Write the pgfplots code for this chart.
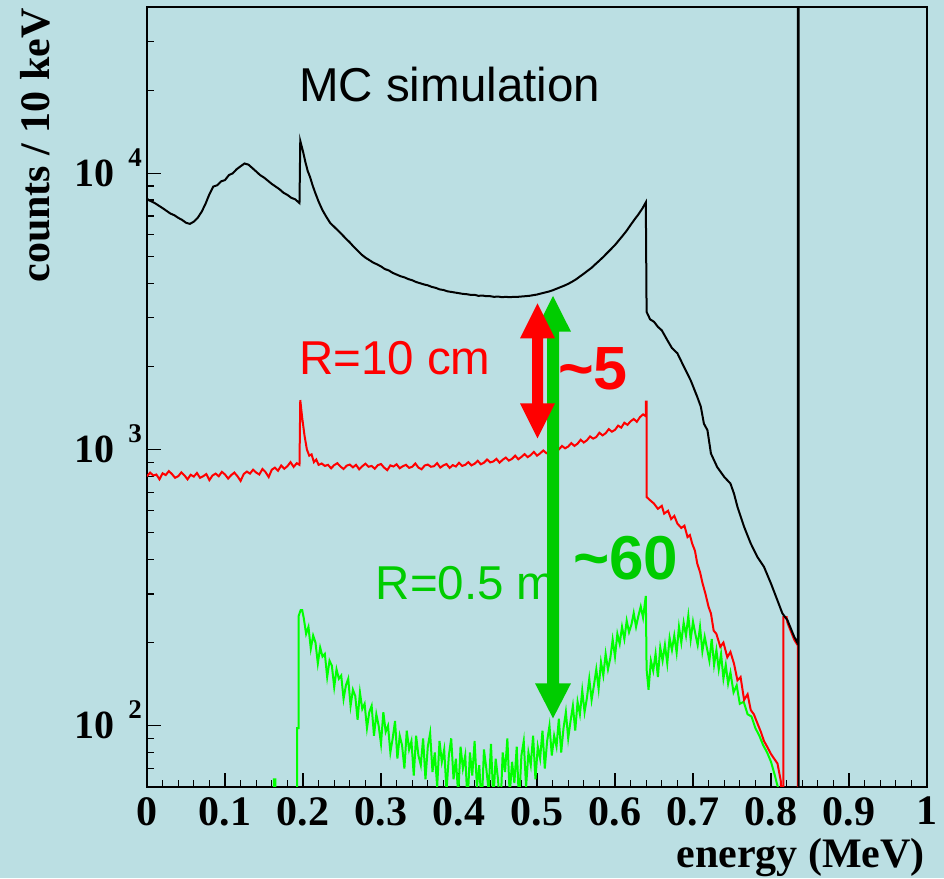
\documentclass[border=0pt]{standalone}
\usepackage{fontspec}
\setmainfont{Liberation Serif}
\newfontfamily\arial{Liberation Sans}
\usepackage{pgfplots}
\usepackage{pgfplotstable}
\pgfplotsset{compat=1.18}

\definecolor{bgc}{RGB}{187,223,227}
\definecolor{lgreen}{RGB}{0,255,0}
\definecolor{dgreen}{RGB}{0,204,0}
\definecolor{pred}{RGB}{255,0,0}

\newcommand\tickfont{\fontsize{42}{42}\selectfont\bfseries}
\newcommand\ylab[1]{\fontsize{40}{40}\selectfont\bfseries 10\hspace{14pt}\smash{\raisebox{20pt}{\fontsize{27}{27}\selectfont\bfseries #1}}}

% black: total spectrum
\pgfplotstableread{
x y
0.000 8100
0.002 8000
0.010 7800
0.020 7480
0.030 7150
0.035 7050
0.040 6900
0.045 6780
0.050 6620
0.055 6560
0.060 6680
0.065 6900
0.070 7250
0.075 7750
0.080 8400
0.085 8950
0.090 9050
0.095 9350
0.100 9450
0.105 9850
0.110 10000
0.115 10350
0.120 10600
0.125 10850
0.130 10750
0.135 10450
0.140 10150
0.145 9850
0.150 9650
0.155 9400
0.160 9150
0.165 8950
0.170 8750
0.175 8500
0.180 8350
0.185 8150
0.190 8050
0.1955 7800
0.1965 13100
0.200 12000
0.203 11000
0.206 10200
0.209 9700
0.212 9100
0.215 8600
0.220 7900
0.225 7350
0.230 6950
0.235 6600
0.240 6400
0.245 6200
0.250 6000
0.255 5800
0.260 5620
0.265 5420
0.270 5250
0.275 5080
0.280 4950
0.285 4850
0.290 4750
0.295 4680
0.300 4600
0.305 4500
0.310 4450
0.315 4360
0.320 4300
0.325 4240
0.330 4200
0.335 4140
0.340 4100
0.345 4040
0.350 4000
0.355 3960
0.360 3930
0.365 3880
0.370 3850
0.375 3800
0.380 3780
0.385 3740
0.390 3720
0.395 3700
0.400 3680
0.405 3660
0.410 3650
0.415 3630
0.420 3630
0.425 3600
0.430 3610
0.435 3590
0.440 3590
0.445 3570
0.450 3580
0.455 3560
0.460 3570
0.465 3560
0.470 3570
0.475 3570
0.480 3580
0.485 3590
0.490 3600
0.495 3620
0.500 3640
0.505 3670
0.510 3700
0.515 3730
0.520 3770
0.525 3820
0.530 3870
0.535 3920
0.540 3980
0.545 4050
0.550 4130
0.555 4230
0.560 4330
0.565 4440
0.570 4550
0.575 4690
0.580 4830
0.585 4980
0.590 5150
0.595 5320
0.600 5500
0.605 5720
0.610 5950
0.615 6200
0.620 6500
0.625 6800
0.630 7100
0.635 7450
0.6395 7850
0.6405 3150
0.645 2960
0.650 2900
0.655 2780
0.660 2700
0.667 2490
0.673 2330
0.680 2230
0.6885 1990
0.697 1780
0.7055 1550
0.710 1430
0.714 1240
0.7185 1175
0.723 967
0.731 864
0.740 796
0.748 753
0.7525 693
0.757 620
0.7655 525
0.774 457
0.7826 408
0.791 376
0.800 327
0.8083 284
0.8146 255
0.8211 241
0.8297 210
0.8345 198
0.8345 1000000
0.8355 1000000
0.8355 1
}\blackdata

% red: R = 10 cm
\pgfplotstableread{
x y
0.000 800
0.004 825
0.008 805
0.012 812
0.016 780
0.020 820
0.024 808
0.028 835
0.032 815
0.036 790
0.040 800
0.044 826
0.048 806
0.052 780
0.056 810
0.060 798
0.064 822
0.068 790
0.072 800
0.076 815
0.080 775
0.084 805
0.088 818
0.092 800
0.096 830
0.100 812
0.104 785
0.108 808
0.112 825
0.116 800
0.120 770
0.124 815
0.128 832
0.132 818
0.136 845
0.140 825
0.144 812
0.148 850
0.152 828
0.156 795
0.160 845
0.164 860
0.168 838
0.172 875
0.176 852
0.180 870
0.184 900
0.188 865
0.192 892
0.1955 880
0.1965 1510
0.199 1300
0.202 1120
0.205 1000
0.208 950
0.211 960
0.214 900
0.217 920
0.220 880
0.224 890
0.228 872
0.232 880
0.236 855
0.240 878
0.244 892
0.248 868
0.252 850
0.256 874
0.260 882
0.264 862
0.268 880
0.272 848
0.276 870
0.280 888
0.284 866
0.288 872
0.292 852
0.296 878
0.300 886
0.304 860
0.308 842
0.312 876
0.316 868
0.320 884
0.324 855
0.328 870
0.332 880
0.336 858
0.340 866
0.344 890
0.348 860
0.352 848
0.356 875
0.360 882
0.364 866
0.368 870
0.372 892
0.376 860
0.380 876
0.384 886
0.388 858
0.392 878
0.396 868
0.400 895
0.404 872
0.408 880
0.412 900
0.416 876
0.420 888
0.424 910
0.428 884
0.432 896
0.436 920
0.440 898
0.444 905
0.448 925
0.452 896
0.456 918
0.460 935
0.464 912
0.468 925
0.472 950
0.476 922
0.480 940
0.484 962
0.488 938
0.492 955
0.496 980
0.500 950
0.504 968
0.508 992
0.512 970
0.516 985
0.520 1010
0.524 985
0.528 1000
0.532 1030
0.536 1010
0.540 1025
0.544 1055
0.548 1030
0.552 1050
0.556 1085
0.560 1060
0.564 1080
0.568 1115
0.572 1095
0.576 1110
0.580 1150
0.584 1125
0.588 1145
0.592 1185
0.596 1160
0.600 1178
0.604 1220
0.608 1200
0.612 1250
0.616 1228
0.620 1265
0.624 1290
0.628 1260
0.632 1310
0.636 1340
0.6395 1320
0.6395 1490
0.6405 1490
0.6405 673
0.645 655
0.650 637
0.655 610
0.660 625
0.663 586
0.668 600
0.672 560
0.676 575
0.680 539
0.685 520
0.689 530
0.693 482
0.696 490
0.699 456
0.7025 430
0.7055 386
0.709 360
0.712 330
0.716 300
0.720 269
0.723 255
0.7265 221
0.730 215
0.735 193
0.739 200
0.744 177
0.748 185
0.7525 168
0.757 146
0.761 150
0.7655 124
0.770 130
0.774 114
0.778 110
0.7826 102
0.787 95
0.791 88
0.795 84
0.800 79
0.804 76
0.8083 73
0.8126 63
0.8140 50
0.8160 50
0.8160 247
0.8200 247
0.8211 236
0.8297 205
0.8345 195
0.8345 1
}\reddata

% green: R = 0.5 m
\pgfplotstableread{
x y
0.160 30
0.1625 30
0.1625 64
0.1645 64
0.1645 30
0.1925 30
0.1925 98
0.1945 98
0.1945 250
0.197 262
0.199 262
0.201 245
0.204 215
0.207 228
0.210 190
0.213 212
0.216 200
0.219 168
0.222 192
0.225 178
0.228 182
0.231 150
0.234 172
0.237 165
0.240 138
0.243 160
0.246 148
0.249 152
0.252 125
0.255 140
0.258 148
0.261 118
0.264 135
0.267 128
0.270 105
0.273 132
0.276 115
0.279 120
0.282 98
0.285 112
0.288 118
0.291 92
0.294 110
0.297 100
0.300 86
0.303 112
0.306 95
0.309 100
0.312 80
0.315 90
0.318 104
0.321 76
0.324 92
0.327 85
0.330 70
0.333 96
0.336 82
0.339 88
0.342 66
0.345 92
0.348 78
0.351 72
0.354 90
0.357 64
0.360 84
0.363 94
0.366 68
0.369 80
0.372 60
0.375 88
0.378 74
0.381 82
0.384 58
0.387 78
0.390 90
0.393 64
0.396 76
0.399 56
0.402 84
0.405 70
0.408 78
0.411 52
0.414 80
0.417 66
0.420 88
0.423 60
0.426 72
0.429 50
0.432 82
0.435 70
0.438 58
0.441 86
0.444 54
0.447 76
0.450 64
0.453 48
0.456 80
0.459 68
0.462 90
0.465 56
0.468 74
0.471 62
0.474 84
0.477 52
0.480 78
0.483 88
0.486 60
0.489 80
0.492 72
0.495 92
0.498 64
0.501 84
0.504 76
0.507 96
0.510 70
0.513 88
0.516 100
0.519 78
0.522 92
0.525 84
0.528 106
0.531 80
0.534 98
0.537 112
0.540 90
0.543 104
0.546 118
0.549 96
0.552 122
0.555 110
0.558 134
0.561 112
0.564 126
0.567 148
0.570 124
0.573 140
0.576 160
0.579 136
0.582 170
0.585 152
0.588 182
0.591 160
0.594 176
0.597 205
0.600 178
0.603 215
0.606 198
0.609 228
0.612 206
0.615 240
0.618 218
0.621 232
0.624 256
0.627 228
0.630 250
0.633 270
0.636 246
0.6395 295
0.6405 160
0.643 135
0.646 172
0.649 158
0.652 182
0.655 150
0.658 192
0.661 172
0.664 196
0.667 168
0.670 208
0.673 188
0.676 212
0.679 184
0.682 228
0.685 200
0.688 236
0.691 212
0.694 250
0.697 205
0.700 238
0.703 215
0.706 196
0.709 228
0.712 186
0.715 210
0.718 190
0.721 172
0.724 206
0.727 166
0.730 188
0.733 160
0.736 182
0.739 148
0.742 166
0.745 142
0.748 156
0.752 132
0.756 140
0.760 120
0.765 122
0.770 110
0.775 108
0.780 98
0.785 92
0.790 85
0.795 80
0.800 74
0.805 66
0.810 58
0.812 30
}\greendata

\begin{document}
\begin{tikzpicture}
% page background, also fixes the picture size
\fill[bgc] (-147pt,-91pt) rectangle (797pt,787pt);
\useasboundingbox (-147pt,-91pt) rectangle (797pt,787pt);

\begin{axis}[
    at={(0,0)}, anchor=south west,
    width=780pt, height=780pt, scale only axis,
    xmin=0, xmax=1,
    ymode=log, ymin=60, ymax=40000,
    xtick={0,0.1,0.2,0.3,0.4,0.5,0.6,0.7,0.8,0.9,1},
    xticklabels={0,0.1,0.2,0.3,0.4,0.5,0.6,0.7,0.8,0.9,1},
    minor x tick num=4,
    ytick={100,1000,10000},
    yticklabels={{\ylab{2}},{\ylab{3}},{\ylab{4}}},
    minor ytick={60,70,80,90,200,300,400,500,600,700,800,900,2000,3000,4000,5000,6000,7000,8000,9000,20000,30000,40000},
    xtick pos=left, ytick pos=left,
    tick align=inside,
    major tick length=14pt, minor tick length=7pt,
    tick style={black, line width=1.2pt},
    axis line style={black, line width=1.5pt},
    xticklabel style={font=\tickfont, inner sep=0pt, anchor=north, yshift=-10pt},
    yticklabel style={inner sep=0pt, anchor=east, xshift=-5pt},
]
\addplot[lgreen, line width=2pt] table[x=x, y=y] {\greendata};
\addplot[pred, line width=2pt] table[x=x, y=y] {\reddata};
\addplot[black, line width=2pt] table[x=x, y=y] {\blackdata};
\end{axis}

% axis titles
\node[font=\tickfont, anchor=base east, inner sep=0pt] at (778pt,-80pt) {energy (MeV)};
\node[font=\tickfont, rotate=90, anchor=base east, inner sep=0pt] at (-97pt,779pt) {counts / 10 keV};

% annotations
\node[font=\arial\fontsize{47.5}{47.5}\selectfont, anchor=base west, inner sep=0pt] at (152pt,685.3pt) {MC simulation};
\node[font=\arial\fontsize{47.5}{47.5}\selectfont, text=pred, anchor=base west, inner sep=0pt] at (152pt,412pt) {R=10 cm};
\node[font=\arial\fontsize{47.5}{47.5}\selectfont, text=dgreen, anchor=base west, inner sep=0pt] at (228.5pt,187pt) {R=0.5 m};

% green double arrow
\fill[dgreen] (400pt,103.7pt) -- (400pt,455.3pt) -- (388pt,455.3pt) -- (406pt,491pt) -- (424pt,455.3pt)
  -- (412pt,455.3pt) -- (412pt,103.7pt) -- (424pt,103.7pt) -- (406pt,68.7pt) -- (388pt,103.7pt) -- cycle;
% red double arrow
\fill[pred] (385pt,383.7pt) -- (385pt,448.7pt) -- (373pt,448.7pt) -- (390.5pt,483.7pt) -- (408pt,448.7pt)
  -- (396pt,448.7pt) -- (396pt,383.7pt) -- (408pt,383.7pt) -- (390.5pt,348.7pt) -- (373pt,383.7pt) -- cycle;

\node[font=\arial\fontsize{61}{61}\selectfont\bfseries, text=pred, anchor=base west, inner sep=0pt] at (411pt,397pt) {\textasciitilde 5};
\node[font=\arial\fontsize{62}{62}\selectfont\bfseries, text=dgreen, anchor=base west, inner sep=0pt] at (426pt,207pt) {\textasciitilde 60};
\end{tikzpicture}
\end{document}
